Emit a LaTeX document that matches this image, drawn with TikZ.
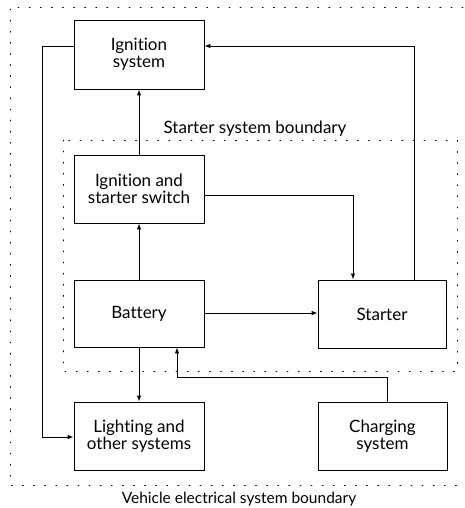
\documentclass[tikz,border=0pt]{standalone}
\usepackage{fontspec}
\setmainfont{Lato}[Ligatures=NoCommon]
\usetikzlibrary{arrows.meta}
\begin{document}
\begin{tikzpicture}[x=1pt,y=-1pt,
  blk/.style={draw,line width=0.9pt,inner sep=0pt,align=center,font=\fontsize{17}{16.5}\selectfont},
  conn/.style={line width=0.9pt},
  arr/.style={conn,-{Latex[length=6pt,width=4.5pt]}},
  bound/.style={line width=0.9pt,dash pattern=on 0.9pt off 10.2pt,line cap=round},
  lbl/.style={font=\fontsize{17}{17}\selectfont}]
\useasboundingbox (0,0) rectangle (465,508);
% boundaries
\draw[bound] (463,7) -- (10,7) -- (10,485) -- (463,485);
\draw[bound] (63,140) rectangle (457,371);
\node[lbl,anchor=base] (sl) at (255,133) {Starter system boundary};
\node[lbl,anchor=base,font=\fontsize{15.5}{16}\selectfont] (vl) at (239,503) {Vehicle electrical system boundary};
% blocks
\node[blk,minimum width=130pt,minimum height=69pt] (ign) at (139,54.5) {Ignition\\system};
\node[blk,minimum width=130pt,minimum height=68pt] (sw) at (139,189) {Ignition and\\starter switch};
\node[blk,minimum width=130pt,minimum height=67pt] (bat) at (139,313.5) {Battery};
\node[blk,minimum width=128pt,minimum height=68pt] (st) at (382,314) {Starter};
\node[blk,minimum width=130pt,minimum height=68pt] (lig) at (139,436) {Lighting and\\other systems};
\node[blk,minimum width=129pt,minimum height=68pt] (chg) at (382.5,436) {Charging\\system};
% coordinates
\coordinate (c1) at (42,46);
\coordinate (c2) at (42,437);
\coordinate (c3) at (353,195);
\coordinate (c4) at (414,46);
\coordinate (c5) at (387,377);
\coordinate (c6) at (177,377);
% connectors
\draw[arr] (ign.west |- c1) -- (c1) -- (c2) -- (lig.west |- c2);
\draw[arr] (sw.north) -- (ign.south);
\draw[arr] (bat.north) -- (sw.south);
\draw[arr] (bat.east |- 0,313) -- (st.west |- 0,313);
\draw[arr] (sw.east |- c3) -- (c3) -- (c3 |- st.north);
\draw[arr] (c4 |- st.north) -- (c4) -- (ign.east |- c4);
\draw[arr] (bat.south) -- (lig.north);
\draw[arr] (c5 |- chg.north) -- (c5) -- (c6) -- (c6 |- bat.south);
\end{tikzpicture}
\end{document}
